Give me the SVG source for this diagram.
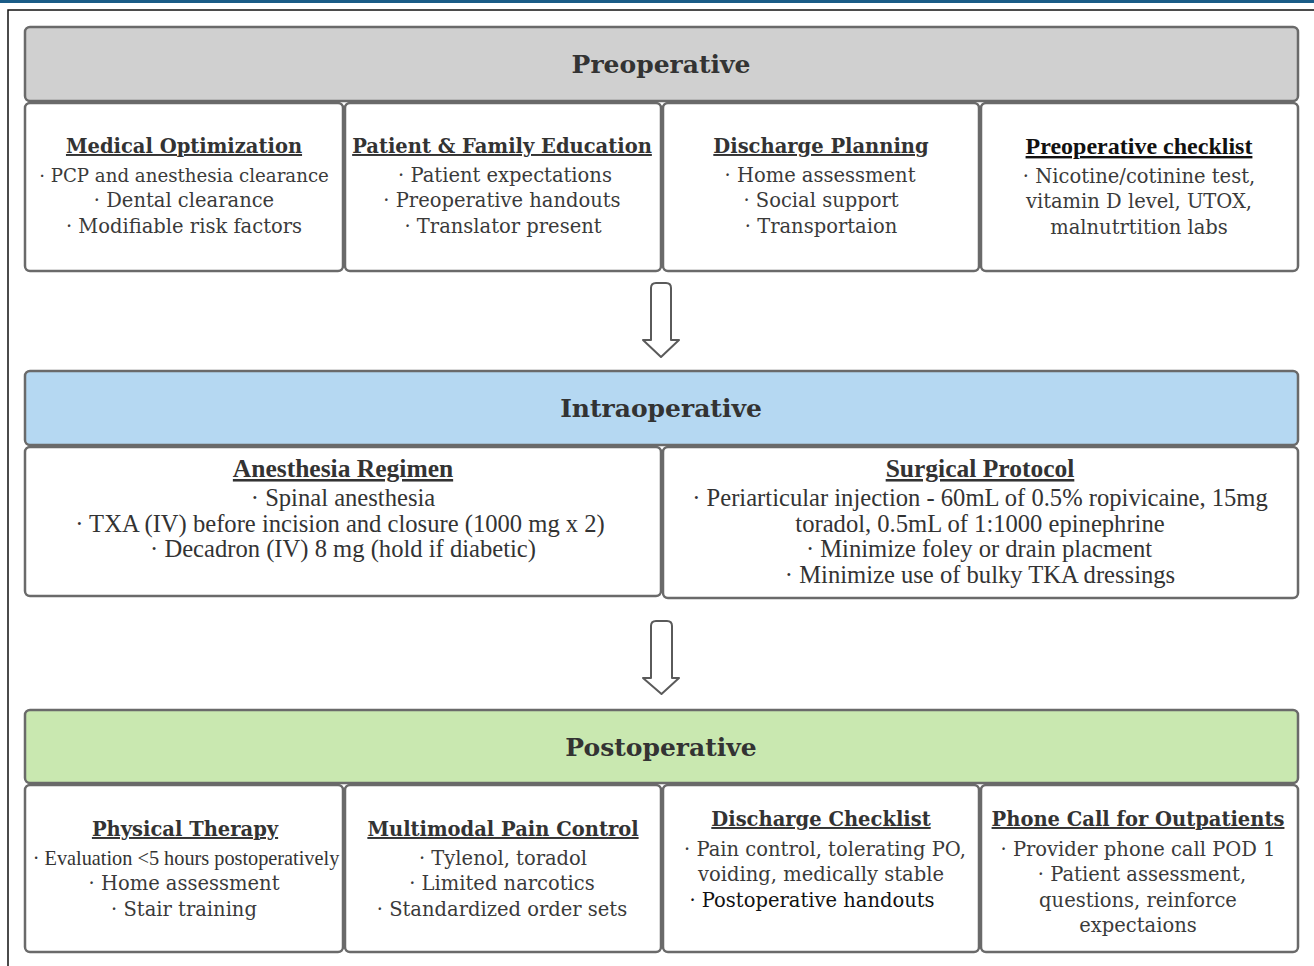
<svg xmlns="http://www.w3.org/2000/svg" width="1314" height="966" viewBox="0 0 1314 966">
<style>
.bg{fill:#ffffff}
.box{fill:#ffffff;stroke:#6a6a6a;stroke-width:2.5}
.hdr-gray{fill:#d0d0d0;stroke:#6a6a6a;stroke-width:2.5}
.hdr-blue{fill:#b5d8f2;stroke:#6a6a6a;stroke-width:2.5}
.hdr-green{fill:#c9e8b0;stroke:#6a6a6a;stroke-width:2.5}
.phase{font-family:"DejaVu Serif",serif;font-weight:bold;font-size:25px;fill:#333;text-anchor:middle}
.h{font-family:"DejaVu Serif",serif;font-weight:bold;font-size:19.5px;fill:#333;text-anchor:middle;text-decoration:underline}
.t{font-family:"DejaVu Serif",serif;font-size:19.5px;fill:#3a3a3a;text-anchor:middle}
.ht{font-family:"Liberation Serif",serif;font-weight:bold;font-size:25.5px;fill:#333;text-anchor:middle;text-decoration:underline}
.tt{font-family:"Liberation Serif",serif;font-size:24.6px;fill:#333;text-anchor:middle}
.arrow{fill:#ffffff;stroke:#5a5a5a;stroke-width:2;stroke-linejoin:round}
</style>
<rect class="bg" x="0" y="0" width="1314" height="966"/>
<rect x="0" y="0" width="1314" height="3" fill="#1a5c87"/>
<path d="M8 966 V10 H1314" fill="none" stroke="#111" stroke-width="1.5"/>

<g id="preoperative">
<rect class="hdr-gray" x="25" y="27" width="1273" height="74" rx="5"/>
<text class="phase" x="661" y="73">Preoperative</text>
</g>
<g id="medical-optimization">
<rect class="box" x="25" y="103" width="318" height="168" rx="5"/>
<text class="h" x="184" y="153">Medical Optimization</text>
<text class="t" x="184" y="182" style="font-size:18.2px">· PCP and anesthesia clearance</text>
<text class="t" x="184" y="207">· Dental clearance</text>
<text class="t" x="184" y="233">· Modifiable risk factors</text>
</g>
<g id="patient-family-education">
<rect class="box" x="345" y="103" width="316" height="168" rx="5"/>
<text class="h" x="502" y="153">Patient &amp; Family Education</text>
<text class="t" x="505" y="182">· Patient expectations</text>
<text class="t" x="502" y="207">· Preoperative handouts</text>
<text class="t" x="503" y="233">· Translator present</text>
</g>
<g id="discharge-planning">
<rect class="box" x="663" y="103" width="316" height="168" rx="5"/>
<text class="h" x="821" y="153">Discharge Planning</text>
<text class="t" x="820" y="182">· Home assessment</text>
<text class="t" x="821" y="207">· Social support</text>
<text class="t" x="821" y="233">· Transportaion</text>
</g>
<g id="preoperative-checklist">
<rect class="box" x="981" y="103" width="317" height="168" rx="5"/>
<text class="ht" x="1139" y="154" style="fill:#111;font-size:24px">Preoperative checklist</text>
<text class="t" x="1139" y="183">· Nicotine/cotinine test,</text>
<text class="t" x="1139" y="208">vitamin D level, UTOX,</text>
<text class="t" x="1139" y="234">malnutrtition labs</text>
</g>

<g id="connectors">
<path class="arrow" d="M656 283 H666 Q671 283 671 288 V340 H679 L661 357 L643 340 H651 V288 Q651 283 656 283 Z"/>
<path class="arrow" d="M656 621 H667 Q672 621 672 626 V678 H679 L661.5 694 L643 678 H651 V626 Q651 621 656 621 Z"/>
</g>

<g id="intraoperative">
<rect class="hdr-blue" x="25" y="371" width="1273" height="74" rx="5"/>
<text class="phase" x="661" y="417">Intraoperative</text>
</g>
<g id="anesthesia-regimen">
<rect class="box" x="25" y="447" width="636" height="149" rx="5"/>
<text class="ht" x="343" y="477">Anesthesia Regimen</text>
<text class="tt" x="343" y="506">· Spinal anesthesia</text>
<text class="tt" x="340" y="532">· TXA (IV) before incision and closure (1000 mg x 2)</text>
<text class="tt" x="343" y="557">· Decadron (IV) 8 mg (hold if diabetic)</text>
</g>
<g id="surgical-protocol">
<rect class="box" x="663" y="447" width="635" height="151" rx="5"/>
<text class="ht" x="980" y="477">Surgical Protocol</text>
<text class="tt" x="980" y="506">· Periarticular injection - 60mL of 0.5% ropivicaine, 15mg</text>
<text class="tt" x="980" y="532">toradol, 0.5mL of 1:1000 epinephrine</text>
<text class="tt" x="979" y="557">· Minimize foley or drain placment</text>
<text class="tt" x="980" y="583">· Minimize use of bulky TKA dressings</text>
</g>

<g id="postoperative">
<rect class="hdr-green" x="25" y="710" width="1273" height="73" rx="5"/>
<text class="phase" x="661" y="756">Postoperative</text>
</g>
<g id="physical-therapy">
<rect class="box" x="25" y="785" width="318" height="167" rx="5"/>
<text class="h" x="185" y="836">Physical Therapy</text>
<text class="tt" x="186" y="865" style="font-size:20.3px">· Evaluation &lt;5 hours postoperatively</text>
<text class="t" x="184" y="890">· Home assessment</text>
<text class="t" x="184" y="916">· Stair training</text>
</g>
<g id="multimodal-pain-control">
<rect class="box" x="345" y="785" width="316" height="167" rx="5"/>
<text class="h" x="503" y="836">Multimodal Pain Control</text>
<text class="t" x="503" y="865">· Tylenol, toradol</text>
<text class="t" x="502" y="890">· Limited narcotics</text>
<text class="t" x="502" y="916">· Standardized order sets</text>
</g>
<g id="discharge-checklist">
<rect class="box" x="663" y="785" width="316" height="167" rx="5"/>
<text class="h" x="821" y="826">Discharge Checklist</text>
<text class="t" x="825" y="856">· Pain control, tolerating PO,</text>
<text class="t" x="821" y="881">voiding, medically stable</text>
<text class="t" x="812" y="907" style="fill:#111">· Postoperative handouts</text>
</g>
<g id="phone-call-outpatients">
<rect class="box" x="981" y="785" width="317" height="167" rx="5"/>
<text class="h" x="1138" y="826">Phone Call for Outpatients</text>
<text class="t" x="1138" y="856">· Provider phone call POD 1</text>
<text class="t" x="1142" y="881">· Patient assessment,</text>
<text class="t" x="1138" y="907">questions, reinforce</text>
<text class="t" x="1138" y="932">expectaions</text>
</g>
</svg>
